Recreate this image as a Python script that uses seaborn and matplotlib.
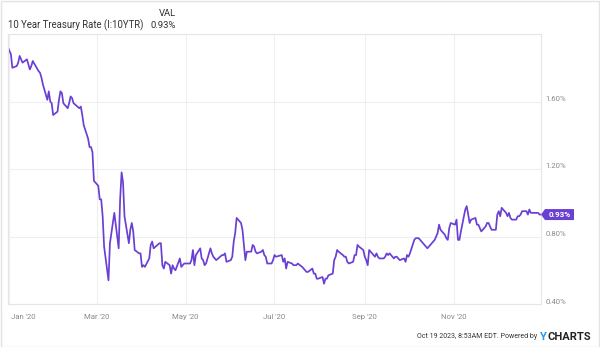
import matplotlib
matplotlib.use("Agg")
import matplotlib.pyplot as plt
import matplotlib.dates as mdates
import matplotlib.transforms as mtransforms
from matplotlib.patches import Polygon, Rectangle
import seaborn as sns
import pandas as pd

# ---- data: 10 Year Treasury Rate, daily (%) ----
dates = [
    "2019-12-31",
    "2020-01-02", "2020-01-03", "2020-01-06", "2020-01-07", "2020-01-08", "2020-01-09", "2020-01-10",
    "2020-01-13", "2020-01-14", "2020-01-15", "2020-01-16", "2020-01-17", "2020-01-21", "2020-01-22",
    "2020-01-23", "2020-01-24", "2020-01-27", "2020-01-28", "2020-01-29", "2020-01-30", "2020-01-31",
    "2020-02-03", "2020-02-04", "2020-02-05", "2020-02-06", "2020-02-07", "2020-02-10", "2020-02-11",
    "2020-02-12", "2020-02-13", "2020-02-14", "2020-02-18", "2020-02-19", "2020-02-20", "2020-02-21",
    "2020-02-24", "2020-02-25", "2020-02-26", "2020-02-27", "2020-02-28",
    "2020-03-02", "2020-03-03", "2020-03-04", "2020-03-05", "2020-03-06", "2020-03-09", "2020-03-10",
    "2020-03-11", "2020-03-12", "2020-03-13", "2020-03-16", "2020-03-17", "2020-03-18", "2020-03-19",
    "2020-03-20", "2020-03-23", "2020-03-24", "2020-03-25", "2020-03-26", "2020-03-27", "2020-03-30",
    "2020-03-31",
    "2020-04-01", "2020-04-02", "2020-04-03", "2020-04-06", "2020-04-07", "2020-04-08", "2020-04-09",
    "2020-04-13", "2020-04-14", "2020-04-15", "2020-04-16", "2020-04-17", "2020-04-20", "2020-04-21",
    "2020-04-22", "2020-04-23", "2020-04-24", "2020-04-27", "2020-04-28", "2020-04-29", "2020-04-30",
    "2020-05-01", "2020-05-04", "2020-05-05", "2020-05-06", "2020-05-07", "2020-05-08", "2020-05-11",
    "2020-05-12", "2020-05-13", "2020-05-14", "2020-05-15", "2020-05-18", "2020-05-19", "2020-05-20",
    "2020-05-21", "2020-05-22", "2020-05-26", "2020-05-27", "2020-05-28", "2020-05-29",
    "2020-06-01", "2020-06-02", "2020-06-03", "2020-06-04", "2020-06-05", "2020-06-08", "2020-06-09",
    "2020-06-10", "2020-06-11", "2020-06-12", "2020-06-15", "2020-06-16", "2020-06-17", "2020-06-18",
    "2020-06-19", "2020-06-22", "2020-06-23", "2020-06-24", "2020-06-25", "2020-06-26", "2020-06-29",
    "2020-06-30",
    "2020-07-01", "2020-07-02", "2020-07-06", "2020-07-07", "2020-07-08", "2020-07-09", "2020-07-10",
    "2020-07-13", "2020-07-14", "2020-07-15", "2020-07-16", "2020-07-17", "2020-07-20", "2020-07-21",
    "2020-07-22", "2020-07-23", "2020-07-24", "2020-07-27", "2020-07-28", "2020-07-29", "2020-07-30",
    "2020-07-31",
    "2020-08-03", "2020-08-04", "2020-08-05", "2020-08-06", "2020-08-07", "2020-08-10", "2020-08-11",
    "2020-08-12", "2020-08-13", "2020-08-14", "2020-08-17", "2020-08-18", "2020-08-19", "2020-08-20",
    "2020-08-21", "2020-08-24", "2020-08-25", "2020-08-26", "2020-08-27", "2020-08-28", "2020-08-31",
    "2020-09-01", "2020-09-02", "2020-09-03", "2020-09-04", "2020-09-08", "2020-09-09", "2020-09-10",
    "2020-09-11", "2020-09-14", "2020-09-15", "2020-09-16", "2020-09-17", "2020-09-18", "2020-09-21",
    "2020-09-22", "2020-09-23", "2020-09-24", "2020-09-25", "2020-09-28", "2020-09-29", "2020-09-30",
    "2020-10-01", "2020-10-02", "2020-10-05", "2020-10-06", "2020-10-07", "2020-10-08", "2020-10-09",
    "2020-10-13", "2020-10-14", "2020-10-15", "2020-10-16", "2020-10-19", "2020-10-20", "2020-10-21",
    "2020-10-22", "2020-10-23", "2020-10-26", "2020-10-27", "2020-10-28", "2020-10-29", "2020-10-30",
    "2020-11-02", "2020-11-03", "2020-11-04", "2020-11-05", "2020-11-06", "2020-11-09", "2020-11-10",
    "2020-11-12", "2020-11-13", "2020-11-16", "2020-11-17", "2020-11-18", "2020-11-19", "2020-11-20",
    "2020-11-23", "2020-11-24", "2020-11-25", "2020-11-27", "2020-11-30",
    "2020-12-01", "2020-12-02", "2020-12-03", "2020-12-04", "2020-12-07", "2020-12-08", "2020-12-09",
    "2020-12-10", "2020-12-11", "2020-12-14", "2020-12-15", "2020-12-16", "2020-12-17", "2020-12-18",
    "2020-12-21", "2020-12-22", "2020-12-23", "2020-12-24", "2020-12-28", "2020-12-29", "2020-12-30",
    "2020-12-31",
]
yields = [
    1.92,
    1.88, 1.80, 1.81, 1.83, 1.87, 1.85, 1.83,
    1.85, 1.82, 1.79, 1.81, 1.84, 1.78, 1.77,
    1.74, 1.70, 1.61, 1.66, 1.60, 1.59, 1.52,
    1.54, 1.61, 1.66, 1.65, 1.59, 1.56, 1.59,
    1.63, 1.62, 1.59, 1.56, 1.57, 1.52, 1.46,
    1.38, 1.33, 1.33, 1.30, 1.13,
    1.10, 1.02, 1.02, 0.92, 0.74, 0.54, 0.76,
    0.82, 0.88, 0.94, 0.73, 1.02, 1.18, 1.12,
    0.92, 0.76, 0.84, 0.88, 0.83, 0.72, 0.70,
    0.70,
    0.62, 0.63, 0.62, 0.67, 0.75, 0.77, 0.73,
    0.76, 0.76, 0.63, 0.61, 0.65, 0.63, 0.58,
    0.63, 0.61, 0.60, 0.67, 0.62, 0.63, 0.64,
    0.64, 0.64, 0.66, 0.72, 0.63, 0.69, 0.73,
    0.67, 0.66, 0.63, 0.64, 0.73, 0.70, 0.68,
    0.67, 0.66, 0.69, 0.69, 0.70, 0.65,
    0.66, 0.68, 0.77, 0.82, 0.91, 0.88, 0.84,
    0.75, 0.66, 0.71, 0.71, 0.75, 0.74, 0.71,
    0.70, 0.71, 0.72, 0.69, 0.68, 0.64, 0.64,
    0.66,
    0.69, 0.68, 0.69, 0.65, 0.67, 0.61, 0.65,
    0.64, 0.63, 0.63, 0.63, 0.64, 0.62, 0.61,
    0.60, 0.59, 0.59, 0.61, 0.58, 0.58, 0.55,
    0.55,
    0.56, 0.52, 0.55, 0.55, 0.57, 0.58, 0.66,
    0.68, 0.72, 0.71, 0.69, 0.68, 0.68, 0.65,
    0.64, 0.65, 0.69, 0.69, 0.75, 0.74, 0.72,
    0.68, 0.66, 0.63, 0.72, 0.68, 0.70, 0.68,
    0.67, 0.67, 0.68, 0.70, 0.69, 0.70, 0.67,
    0.68, 0.68, 0.67, 0.66, 0.67, 0.65, 0.69,
    0.68, 0.70, 0.78, 0.79, 0.79, 0.79, 0.78,
    0.74, 0.73, 0.74, 0.75, 0.78, 0.80, 0.82,
    0.87, 0.84, 0.81, 0.79, 0.78, 0.85, 0.88,
    0.87, 0.90, 0.78, 0.78, 0.83, 0.96, 0.98,
    0.88, 0.90, 0.91, 0.87, 0.87, 0.85, 0.83,
    0.86, 0.88, 0.88, 0.84, 0.84,
    0.93, 0.95, 0.92, 0.97, 0.94, 0.92, 0.94,
    0.91, 0.90, 0.90, 0.92, 0.92, 0.93, 0.95,
    0.95, 0.93, 0.96, 0.94, 0.94, 0.94, 0.93,
    0.93,
]
series_name = "10 Year Treasury Rate (I:10YTR)"
tick_dates = ["2020-01-01", "2020-03-01", "2020-05-01", "2020-07-01", "2020-09-01", "2020-11-01"]
tick_labels = ["Jan '20", "Mar '20", "May '20", "Jul '20", "Sep '20", "Nov '20"]
y_ticks = [0.40, 0.80, 1.20, 1.60]
y_tick_labels = ["0.40%", "0.80%", "1.20%", "1.60%"]

df = pd.DataFrame({"date": pd.to_datetime(dates), "value": yields})

LINE = "#6a3fd3"
FONT = ["Roboto", "DejaVu Sans"]

sns.set_theme(style="white")
plt.rcParams["font.family"] = FONT

W, H, DPI = 600, 347, 100
fig = plt.figure(figsize=(W / DPI, H / DPI), dpi=DPI)
left, right, top, bottom = 8, 541, 34, 304
ax = fig.add_axes([left / W, 1 - bottom / H, (right - left) / W, (bottom - top) / H])

sns.lineplot(data=df, x="date", y="value", ax=ax, color=LINE, linewidth=1.25)

ax.set_xlim(pd.Timestamp("2019-12-31"), pd.Timestamp("2020-12-31"))
ax.set_ylim(0.40, 2.00)
ax.set_xlabel("")
ax.set_ylabel("")

# grid & spines
ax.set_xticks(pd.to_datetime(tick_dates))
ax.set_xticklabels(tick_labels)
ax.set_yticks(y_ticks)
ax.set_yticklabels(y_tick_labels)
ax.grid(True, color="#efefef", linewidth=0.8)
ax.set_axisbelow(True)
for s in ax.spines.values():
    s.set_color("#e6e6e6")
    s.set_linewidth(0.8)

ax.yaxis.tick_right()
ax.tick_params(axis="y", length=0, pad=3, labelsize=5.6, labelcolor="#8a8a8a")
ax.tick_params(axis="x", length=0, pad=7, labelsize=5.6, labelcolor="#8a8a8a")
up = mtransforms.ScaledTranslation(0, 3 / DPI, fig.dpi_scale_trans)
for lab in ax.get_yticklabels():
    lab.set_transform(lab.get_transform() + up)
xl = ax.get_xticklabels()
xl[0].set_horizontalalignment("left")
xl[0].set_transform(xl[0].get_transform() + mtransforms.ScaledTranslation(2 / DPI, 0, fig.dpi_scale_trans))

# last value tag
fig.canvas.draw()
last_date, last_val = df["date"].iloc[-1], df["value"].iloc[-1]
px, py = ax.transData.transform((mdates.date2num(last_date), last_val))
px = ax.transAxes.transform((1.0, 0))[0]
hh = 5.5
tag = Polygon([(px, py), (px + 4, py + hh), (px + 33, py + hh), (px + 33, py - hh), (px + 4, py - hh)],
              closed=True, transform=None, facecolor=LINE, edgecolor="none", clip_on=False, zorder=5)
fig.patches.append(tag)
fig.text((px + 19) / W, py / H, f"{last_val:.2f}%", color="white", fontsize=5.8, fontweight="bold",
         ha="center", va="center", zorder=6)

# header
fig.text(176 / W, 1 - 14 / H, "VAL", ha="right", va="center", fontsize=6.8, color="#333333")
fig.text(8 / W, 1 - 25.5 / H, series_name, ha="left", va="center", fontsize=6.9, color="#333333")
fig.text(176 / W, 1 - 25.5 / H, f"{last_val:.2f}%", ha="right", va="center", fontsize=6.8, color="#333333")

# footer
fig.text(539 / W, 1 - 337 / H, "Oct 19 2023, 8:53AM EDT. Powered by ", ha="right", va="center",
         fontsize=5.0, color="#333333")
fig.text(540 / W, 1 - 337 / H, "Y", ha="left", va="center", fontsize=8, fontweight="bold", color="#1e9bf0")
fig.text(548 / W, 1 - 337 / H, "CHARTS", ha="left", va="center", fontsize=8, fontweight="bold",
         color="#222222")

# outer border
fig.patches.append(Rectangle((0.5 / W, 0.5 / H), 1 - 1.5 / W, 1 - 1.5 / H, transform=fig.transFigure,
                             fill=False, edgecolor="#e3e3e3", linewidth=1))

fig.savefig("out.png", dpi=DPI, facecolor="white")
